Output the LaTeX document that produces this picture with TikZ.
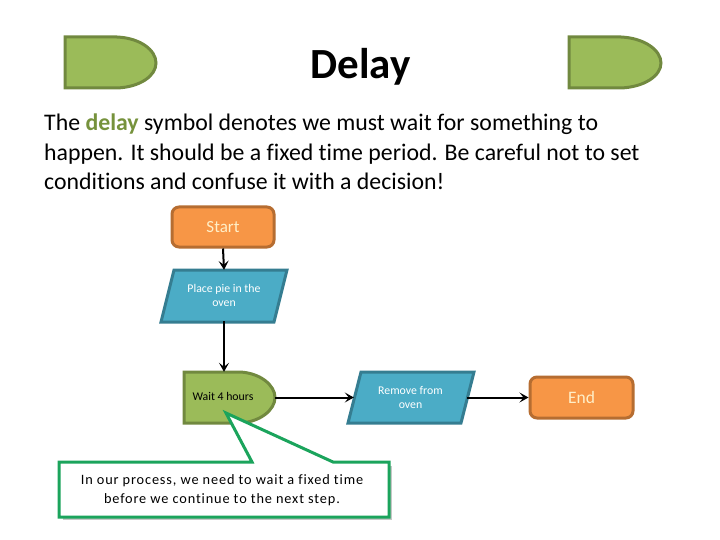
\documentclass[tikz,border=0pt]{standalone}
\usepackage{fontspec}
\setmainfont[Ligatures=NoCommon]{Carlito}
\newfontfamily\widefont[LetterSpace=6,Ligatures=NoCommon]{Carlito}
\usetikzlibrary{arrows.meta}
\definecolor{dgreen}{HTML}{9BBB59}\definecolor{dgreenb}{HTML}{71893F}
\definecolor{dorange}{HTML}{F79646}\definecolor{dorangeb}{HTML}{B66D31}
\definecolor{dblue}{HTML}{4BACC6}\definecolor{dblueb}{HTML}{357D91}
\definecolor{dcall}{HTML}{1BA45C}\definecolor{dcream}{HTML}{FFEFC8}
\definecolor{dolive}{HTML}{76923C}
\tikzset{
 greenshape/.style={draw=dgreenb,fill=dgreen,line width=3pt,line join=miter},
 blueshape/.style={draw=dblueb,fill=dblue,line width=3pt,line join=miter},
 termbox/.style={draw=dorangeb,fill=dorange,line width=3pt,rounded corners=7pt,inner sep=0pt},
 anchorbox/.style={inner sep=0pt,minimum height=51pt},
 flow/.style={black,line width=2pt,-{Stealth[length=9pt,width=10pt,inset=4pt]}},
 smalllabel/.style={align=center,font=\fontsize{11.8}{14}\selectfont,inner sep=0pt},
}
\begin{document}
\begin{tikzpicture}[x=1pt,y=-1pt]
\useasboundingbox (0,0) rectangle (720,540);
% decorative delay symbols
\path[greenshape] (65,37) -- (117,37) .. controls (140,38) and (156,50) .. (156,63) .. controls (156,76) and (140,87) .. (117,88) -- (65,88) -- cycle;
\path[greenshape] (569,37) -- (621,37) .. controls (644,38) and (661,50) .. (661,63) .. controls (661,76) and (644,87) .. (621,88) -- (569,88) -- cycle;
\node[font=\bfseries\fontsize{43}{50}\selectfont,inner sep=0pt] (title) at (360.5,67) {Delay};
\node[anchor=north west,align=left,inner sep=0pt,font=\fontsize{23.8}{29.5}\selectfont] (body) at (44,114)
 {The {\bfseries\color{dolive}delay} symbol denotes we must wait for something to\\
  happen. It should be a fixed time period. Be careful not to set\\
  conditions and confuse it with a decision!};
% flow nodes
\node[termbox,minimum width=102pt,minimum height=40pt,text=dcream,font=\fontsize{17}{20}\selectfont] (start) at (223,227) {Start};
\path[blueshape] (174,270) -- (287,270) -- (274,322) -- (161,322) -- cycle;
\node[anchorbox,minimum width=113pt,text=white,smalllabel] (place) at (224,295.5) {Place pie in the\\oven};
\path[greenshape] (184,372) -- (240,372) .. controls (260,373) and (275,385) .. (275,397.5) .. controls (275,410) and (260,422) .. (240,423) -- (184,423) -- cycle;
\node[anchorbox,minimum width=91pt] (wait) at (229.5,397.5) {};
\node[smalllabel] (waittext) at (223,396.5) {Wait 4 hours};
\path[blueshape] (361,372) -- (474,372) -- (461,423) -- (348,423) -- cycle;
\node[anchorbox,minimum width=113pt,text=white,smalllabel] (remove) at (410.5,397.5) {Remove from\\oven};
\node[termbox,minimum width=103pt,minimum height=41pt,text=dcream,font=\fontsize{17.5}{20}\selectfont] (end) at (581.5,397.5) {End};
% connectors
\draw[flow] (start.south) -- (place.north);
\draw[flow] (place.south) -- (place.south |- wait.north);
\draw[flow] (wait.east) -- (remove.west);
\draw[flow] (remove.east) -- (end.west);
% callout
\fill[black,opacity=.22] (63,466) rectangle (392,520);
\path[draw=dcall,fill=white,line width=3pt,line join=miter] (59,462) -- (252,462) -- (226,413) -- (333,462) -- (389,462) -- (389,517) -- (59,517) -- cycle;
\node[align=center,inner sep=0pt,font=\widefont\fontsize{14.3}{19}\selectfont] (note) at (222,490.5) {In our process, we need to wait a fixed time\\before we continue to the next step.};
\end{tikzpicture}
\end{document}
